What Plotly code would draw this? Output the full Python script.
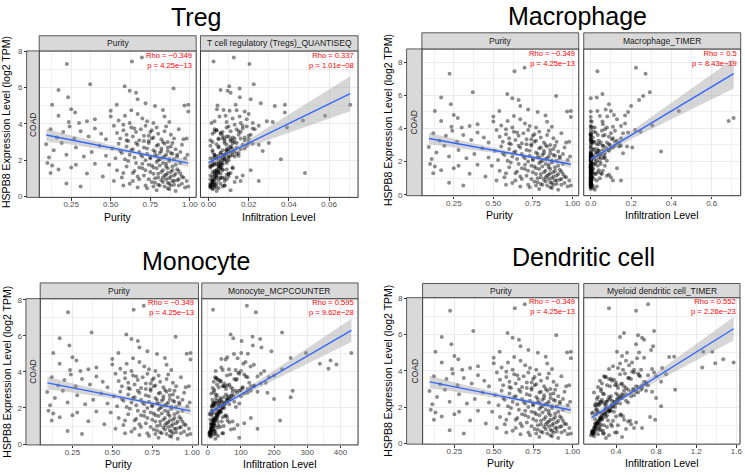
import plotly.graph_objects as go

# ---------------- text / labels ----------------
titles = ["Treg", "Macrophage", "Monocyte", "Dendritic cell"]
strip_labels = ["T cell regulatory (Tregs)_QUANTISEQ", "Macrophage_TIMER",
                "Monocyte_MCPCOUNTER", "Myeloid dendritic cell_TIMER"]
cancer = "COAD"
purity_rho = "\u22120.349"
purity_p = "4.25e\u221213"
infil_rho = ["0.337", "0.5", "0.595", "0.552"]
infil_p = ["1.01e\u221208", "8.43e\u221219", "9.62e\u221228", "2.26e\u221223"]

# ---------------- sample data (shared samples) ----------------
purity = [
    0.223, 0.634, 0.697, 0.37, 0.17, 0.588, 0.62, 0.66, 0.897, 0.231,
    0.67, 0.13, 0.25, 0.275, 0.538, 0.72, 0.78, 0.83, 0.966, 0.99,
    0.99, 0.17, 0.50, 0.50, 0.55, 0.59, 0.63, 0.67, 0.70, 0.73,
    0.84, 0.87, 0.40, 0.35, 0.30, 0.235, 0.77, 0.62,
    0.12, 0.16, 0.20, 0.24, 0.27, 0.31, 0.36, 0.40, 0.44, 0.47,
    0.52, 0.54, 0.56, 0.58, 0.60, 0.61, 0.63, 0.64, 0.66, 0.68,
    0.69, 0.71, 0.72, 0.74, 0.75, 0.77, 0.79, 0.80, 0.82, 0.84,
    0.86, 0.88, 0.90, 0.93, 0.96, 0.58, 0.65, 0.76, 0.85, 0.98,
    0.092, 0.11, 0.14, 0.19, 0.22, 0.28, 0.33, 0.38, 0.43, 0.47,
    0.51, 0.53, 0.55, 0.57, 0.59, 0.60, 0.62, 0.64, 0.65, 0.67,
    0.68, 0.70, 0.71, 0.73, 0.74, 0.75, 0.77, 0.78, 0.79, 0.80,
    0.81, 0.82, 0.83, 0.84, 0.85, 0.86, 0.87, 0.88, 0.89, 0.91,
    0.92, 0.94, 0.95, 0.97, 0.985,
    0.10, 0.12, 0.13, 0.17, 0.22, 0.25, 0.28, 0.31, 0.35, 0.40,
    0.45, 0.49, 0.52, 0.54, 0.57, 0.60, 0.62, 0.64, 0.66, 0.68,
    0.70, 0.71, 0.72, 0.74, 0.75, 0.76, 0.77, 0.78, 0.79, 0.80,
    0.80, 0.81, 0.82, 0.83, 0.83, 0.84, 0.85, 0.85, 0.86, 0.86,
    0.87, 0.88, 0.88, 0.89, 0.90, 0.90, 0.91, 0.92, 0.93, 0.94,
    0.95, 0.96, 0.97, 0.98, 0.99, 0.58, 0.67, 0.73, 0.87, 0.79,
    0.61, 0.63, 0.65, 0.66, 0.67, 0.69, 0.70, 0.71, 0.72, 0.73,
    0.74, 0.75, 0.76, 0.76, 0.77, 0.78, 0.78, 0.79, 0.80, 0.80,
    0.81, 0.81, 0.82, 0.82, 0.83, 0.83, 0.84, 0.84, 0.85, 0.85,
    0.86, 0.86, 0.87, 0.87, 0.88, 0.88, 0.89, 0.89, 0.90, 0.90,
    0.91, 0.91, 0.92, 0.92, 0.93, 0.93, 0.94, 0.95, 0.56, 0.58,
    0.60, 0.64, 0.68, 0.72, 0.74, 0.77, 0.79, 0.83, 0.86, 0.89,
]

expression = [
    7.30, 7.44, 7.66, 6.18, 5.86, 6.07, 5.82, 5.71, 5.95, 5.46,
    5.35, 5.05, 4.81, 4.63, 5.05, 5.14, 4.99, 4.77, 5.01, 5.05,
    4.68, 4.45, 4.72, 4.41, 4.18, 4.45, 4.75, 4.55, 4.30, 4.15,
    4.40, 4.10, 4.25, 4.15, 4.05, 4.10, 4.05, 4.05,
    3.70, 3.25, 3.55, 3.85, 3.20, 3.60, 3.30, 3.75, 3.45, 3.15,
    3.90, 3.50, 3.20, 3.65, 3.40, 3.05, 3.80, 3.30, 3.55, 3.10,
    3.70, 3.35, 3.90, 3.05, 3.55, 3.25, 3.80, 3.45, 3.15, 3.60,
    3.00, 3.40, 3.20, 3.70, 3.15, 3.95, 3.75, 3.65, 3.85, 3.20,
    2.88, 2.15, 2.55, 2.95, 2.30, 2.70, 2.20, 2.45, 2.80, 2.25,
    2.65, 2.10, 2.90, 2.40, 2.05, 2.75, 2.30, 2.60, 2.15, 2.85,
    2.45, 2.20, 2.70, 2.35, 2.95, 2.10, 2.55, 2.25, 2.80, 2.00,
    2.40, 2.65, 2.15, 2.90, 2.30, 2.50, 2.05, 2.75, 2.35, 2.60,
    2.20, 2.45, 2.85, 2.10, 2.30,
    1.85, 1.30, 1.70, 1.48, 0.72, 1.60, 1.75, 0.55, 1.26, 1.80,
    1.10, 1.75, 0.85, 1.45, 1.05, 1.65, 0.70, 1.30, 1.85, 0.95,
    1.55, 1.15, 0.60, 1.75, 1.35, 0.80, 1.60, 1.00, 1.90, 0.65,
    1.25, 1.70, 0.90, 1.45, 1.05, 0.55, 1.80, 1.20, 0.75, 1.55,
    1.00, 1.35, 0.60, 1.65, 0.85, 1.15, 0.30, 1.50, 0.95, 1.25,
    0.70, 1.05, 0.50, 0.85, 0.55, 0.60, 0.50, 0.45, 0.40, 0.35,
    1.95, 2.55, 1.40, 2.95, 1.10, 2.30, 1.80, 3.05, 1.45, 2.65,
    0.95, 2.15, 1.70, 3.20, 1.25, 2.45, 0.75, 1.55, 2.85, 1.05,
    2.05, 0.60, 1.35, 2.50, 1.85, 0.80, 1.15, 2.20, 0.95, 1.65,
    2.70, 1.30, 0.70, 1.95, 1.10, 2.40, 0.85, 1.45, 2.05, 0.65,
    1.25, 1.75, 0.90, 2.30, 1.40, 0.60, 1.85, 1.10, 2.50, 1.30,
    3.10, 0.85, 1.60, 2.00, 3.35, 0.55, 2.25, 3.00, 0.45, 2.95,
]

treg = [
    0.0204, 0.0025, 0.0126, 0.0225, 0.006, 0.0103, 0.0095, 0.011, 0.0155, 0.0156,
    0.021, 0.0705, 0.0042, 0.038, 0.038, 0.026, 0.033, 0.0075, 0.0045, 0.0135,
    0.018, 0.058, 0.0105, 0.0155, 0.047, 0.0085, 0.014, 0.020, 0.012, 0.029,
    0.0055, 0.032, 0.019, 0.003, 0.016, 0.009, 0.022, 0.0015,
    0.003, 0.012, 0.007, 0.019, 0.005, 0.015, 0.009, 0.022, 0.002, 0.011,
    0.017, 0.006, 0.013, 0.004, 0.021, 0.008, 0.039, 0.010, 0.016, 0.001,
    0.014, 0.007, 0.025, 0.012, 0.003, 0.018, 0.009, 0.006, 0.020, 0.011,
    0.002, 0.015, 0.008, 0.023, 0.005, 0.013, 0.017, 0.004, 0.010, 0.007,
    0.004, 0.010, 0.002, 0.030, 0.007, 0.014, 0.003, 0.009, 0.019, 0.005,
    0.012, 0.001, 0.022, 0.006, 0.036, 0.011, 0.003, 0.016, 0.008, 0.025,
    0.002, 0.013, 0.005, 0.009, 0.020, 0.004, 0.007, 0.015, 0.001, 0.010,
    0.006, 0.018, 0.003, 0.012, 0.008, 0.027, 0.002, 0.005, 0.014, 0.009,
    0.004, 0.011, 0.017, 0.006, 0.003,
    0.002, 0.048, 0.001, 0.009, 0.004, 0.012, 0.003, 0.007, 0.006, 0.005,
    0.010, 0.002, 0.008, 0.004, 0.014, 0.001, 0.006, 0.011, 0.003, 0.009,
    0.005, 0.017, 0.002, 0.007, 0.004, 0.013, 0.001, 0.008, 0.006, 0.003,
    0.010, 0.002, 0.005, 0.021, 0.007, 0.001, 0.004, 0.009, 0.003, 0.012,
    0.006, 0.002, 0.008, 0.005, 0.016, 0.001, 0.004, 0.007, 0.003, 0.010,
    0.002, 0.006, 0.001, 0.025, 0.004, 0.008, 0.003, 0.005, 0.002, 0.011,
    0.005, 0.009, 0.003, 0.014, 0.002, 0.008, 0.006, 0.011, 0.004, 0.010,
    0.001, 0.007, 0.005, 0.016, 0.003, 0.012, 0.002, 0.006, 0.009, 0.004,
    0.008, 0.001, 0.005, 0.013, 0.007, 0.002, 0.004, 0.010, 0.003, 0.006,
    0.011, 0.005, 0.001, 0.009, 0.003, 0.015, 0.002, 0.007, 0.008, 0.001,
    0.004, 0.006, 0.002, 0.012, 0.005, 0.003, 0.009, 0.004, 0.010, 0.003,
    0.018, 0.002, 0.006, 0.007, 0.020, 0.001, 0.011, 0.013, 0.002, 0.008,
]

macrophage = [
    0.272, 0.033, 0.224, 0.293, 0.03, 0.058, 0.0, 0.24, 0.26, 0.09,
    0.20, 0.437, 0.115, 0.709, 0.10, 0.074, 0.185, 0.17, 0.0, 0.033,
    0.0, 0.684, 0.082, 0.058, 0.305, 0.0, 0.045, 0.13, 0.17, 0.0,
    0.005, 0.11, 0.06, 0.15, 0.02, 0.0, 0.08, 0.008,
    0.0, 0.04, 0.0, 0.12, 0.005, 0.07, 0.0, 0.185, 0.01, 0.05,
    0.0, 0.09, 0.02, 0.0, 0.15, 0.03, 0.247, 0.0, 0.06, 0.008,
    0.10, 0.0, 0.22, 0.04, 0.0, 0.13, 0.015, 0.0, 0.08, 0.035,
    0.0, 0.11, 0.005, 0.16, 0.0, 0.07, 0.025, 0.0, 0.055, 0.012,
    0.0, 0.02, 0.0, 0.15, 0.0, 0.06, 0.005, 0.0, 0.10, 0.0,
    0.04, 0.0, 0.18, 0.01, 0.08, 0.03, 0.0, 0.349, 0.0, 0.206,
    0.0, 0.05, 0.012, 0.0, 0.12, 0.0, 0.025, 0.07, 0.0, 0.045,
    0.0, 0.09, 0.0, 0.14, 0.008, 0.16, 0.0, 0.015, 0.065, 0.0,
    0.0, 0.035, 0.11, 0.0, 0.003,
    0.0, 0.01, 0.0, 0.04, 0.0, 0.0, 0.07, 0.0, 0.02, 0.0,
    0.005, 0.0, 0.03, 0.0, 0.10, 0.0, 0.0, 0.05, 0.0, 0.015,
    0.0, 0.08, 0.0, 0.0, 0.035, 0.0, 0.13, 0.0, 0.006, 0.0,
    0.025, 0.0, 0.0, 0.06, 0.0, 0.01, 0.0, 0.09, 0.0, 0.0,
    0.045, 0.0, 0.003, 0.0, 0.11, 0.0, 0.02, 0.0, 0.0, 0.055,
    0.0, 0.008, 0.0, 0.15, 0.0, 0.0, 0.03, 0.0, 0.012, 0.0,
    0.004, 0.03, 0.0, 0.06, 0.002, 0.0, 0.02, 0.09, 0.0, 0.04,
    0.0, 0.006, 0.0, 0.12, 0.0, 0.05, 0.0, 0.01, 0.075, 0.0,
    0.03, 0.0, 0.004, 0.0, 0.015, 0.0, 0.0, 0.065, 0.002, 0.0,
    0.085, 0.0, 0.0, 0.025, 0.0, 0.045, 0.0, 0.008, 0.0, 0.0,
    0.0, 0.035, 0.0, 0.02, 0.0, 0.0, 0.05, 0.003, 0.07, 0.0,
    0.14, 0.0, 0.01, 0.0, 0.105, 0.0, 0.04, 0.095, 0.0, 0.06,
]

monocyte = [
    145, 16, 118, 224, 77, 69, 158, 102, 135, 136,
    162, 433, 59, 370, 296, 192, 79, 250, 121, 101,
    54, 338, 41, 388, 364, 107, 90, 114, 129, 224,
    139, 84, 41, 64, 24, 45, 170, 100,
    22, 60, 35, 110, 45, 80, 28, 150, 18, 70,
    95, 40, 130, 25, 175, 55, 200, 65, 85, 15,
    120, 50, 160, 75, 30, 140, 58, 38, 105, 88,
    20, 125, 48, 185, 33, 92, 115, 27, 68, 52,
    18, 45, 25, 256, 30, 70, 15, 40, 110, 22,
    60, 12, 150, 35, 85, 55, 20, 250, 33, 180,
    14, 65, 28, 42, 130, 19, 38, 95, 11, 50,
    27, 100, 16, 75, 36, 200, 13, 24, 80, 48,
    21, 58, 120, 32, 17,
    12, 218, 8, 45, 20, 55, 15, 25, 30, 35,
    10, 40, 18, 28, 90, 6, 22, 60, 14, 38,
    26, 110, 9, 33, 16, 70, 11, 48, 24, 7,
    42, 13, 29, 130, 19, 5, 36, 65, 17, 52,
    21, 8, 44, 27, 80, 10, 23, 58, 15, 75,
    12, 32, 6, 150, 20, 46, 14, 31, 9, 95,
    28, 62, 18, 95, 14, 48, 34, 120, 20, 72,
    10, 40, 26, 140, 16, 58, 9, 30, 88, 13,
    44, 7, 22, 66, 37, 11, 19, 52, 12, 31,
    78, 17, 8, 41, 15, 60, 10, 24, 47, 6,
    21, 35, 12, 54, 25, 9, 39, 18, 70, 20,
    105, 11, 29, 43, 160, 8, 50, 100, 7, 85,
]

dendritic = [
    0.60, 0.33, 0.72, 0.78, 0.44, 0.48, 0.66, 0.68, 0.62, 0.60,
    0.77, 1.36, 0.46, 1.47, 1.27, 0.75, 0.51, 0.98, 0.63, 0.41,
    0.61, 1.573, 0.68, 1.39, 1.26, 0.56, 0.93, 0.50, 0.53, 0.86,
    0.44, 0.76, 0.37, 0.42, 0.58, 0.33, 0.65, 0.47,
    0.28, 0.45, 0.35, 0.62, 0.31, 0.52, 0.26, 0.72, 0.24, 0.48,
    0.58, 0.38, 0.66, 0.30, 0.85, 0.42, 0.90, 0.46, 0.55, 0.22,
    0.64, 0.40, 0.78, 0.50, 0.33, 0.70, 0.44, 0.36, 0.60, 0.53,
    0.25, 0.68, 0.41, 0.80, 0.34, 0.56, 0.63, 0.29, 0.49, 0.39,
    0.25, 0.38, 0.22, 0.99, 0.30, 0.46, 0.20, 0.34, 0.62, 0.27,
    0.42, 0.19, 0.70, 0.32, 0.85, 0.40, 0.24, 0.55, 0.29, 0.76,
    0.21, 0.44, 0.28, 0.36, 0.65, 0.23, 0.33, 0.52, 0.18, 0.39,
    0.26, 0.58, 0.22, 0.48, 0.31, 0.80, 0.20, 0.27, 0.50, 0.35,
    0.24, 0.41, 0.60, 0.30, 0.25,
    0.20, 0.79, 0.17, 0.40, 0.25, 0.45, 0.22, 0.28, 0.32, 0.35,
    0.19, 0.38, 0.23, 0.30, 0.55, 0.16, 0.27, 0.48, 0.21, 0.36,
    0.26, 0.60, 0.18, 0.33, 0.24, 0.50, 0.20, 0.42, 0.29, 0.17,
    0.37, 0.22, 0.31, 0.74, 0.25, 0.16, 0.34, 0.52, 0.23, 0.44,
    0.28, 0.19, 0.39, 0.26, 0.58, 0.21, 0.30, 0.47, 0.24, 0.54,
    0.20, 0.35, 0.17, 0.66, 0.27, 0.41, 0.22, 0.33, 0.18, 0.46,
    0.30, 0.44, 0.24, 0.58, 0.20, 0.38, 0.33, 0.66, 0.25, 0.47,
    0.19, 0.36, 0.29, 0.72, 0.22, 0.43, 0.18, 0.31, 0.55, 0.21,
    0.37, 0.17, 0.26, 0.46, 0.32, 0.19, 0.23, 0.40, 0.20, 0.28,
    0.50, 0.24, 0.16, 0.34, 0.21, 0.42, 0.18, 0.27, 0.35, 0.17,
    0.23, 0.30, 0.19, 0.39, 0.25, 0.16, 0.33, 0.22, 0.45, 0.26,
    0.62, 0.20, 0.29, 0.36, 0.70, 0.18, 0.41, 0.57, 0.15, 0.52,
]

# ---------------- fitted lines and 95% bands ----------------
purity_fit_x = [0.093, 0.30, 0.50, 0.65, 0.80, 0.99]
purity_fit_y = [3.39, 3.03, 2.69, 2.43, 2.17, 1.84]
purity_fit_ci = [0.34, 0.23, 0.13, 0.09, 0.12, 0.22]

treg_fit_x = [0.0, 0.01, 0.02, 0.035, 0.05, 0.0705]
treg_fit_y = [1.86, 2.40, 2.94, 3.75, 4.56, 5.66]
treg_fit_ci = [0.20, 0.12, 0.20, 0.43, 0.67, 0.97]

mac_fit_x = [0.0, 0.05, 0.2, 0.4, 0.55, 0.709]
mac_fit_y = [2.13, 2.49, 3.59, 5.05, 6.14, 7.30]
mac_fit_ci = [0.13, 0.12, 0.24, 0.49, 0.69, 0.90]

mono_fit_x = [6, 70, 150, 250, 350, 433]
mono_fit_y = [1.74, 2.42, 3.28, 4.35, 5.41, 6.30]
mono_fit_ci = [0.165, 0.12, 0.185, 0.34, 0.51, 0.65]

dc_fit_x = [0.155, 0.45, 0.7, 1.0, 1.3, 1.573]
dc_fit_y = [1.42, 2.44, 3.30, 4.34, 5.37, 6.31]
dc_fit_ci = [0.21, 0.12, 0.19, 0.335, 0.50, 0.65]

infil_values = [treg, macrophage, monocyte, dendritic]
infil_fits = [(treg_fit_x, treg_fit_y, treg_fit_ci), (mac_fit_x, mac_fit_y, mac_fit_ci),
              (mono_fit_x, mono_fit_y, mono_fit_ci), (dc_fit_x, dc_fit_y, dc_fit_ci)]

# ---------------- layout geometry (pixels) ----------------
W, H = 745, 475
FONT = "Liberation Sans, Arial, sans-serif"
panels = [
    dict(pur=(39.3, 196.7), inf=(201, 359), py=(47.7, 196.7), sy=(32.3, 47.7), coad=(26.7, 39.3),
         title=(197, 13), ytx=6, yty=120, xty=216.5, yr=[-0.05, 8.02],
         xr=[-0.004, 0.0744], tick0=0, dtick=0.02, fmt=".2f"),
    dict(pur=(423, 580.3), inf=(585.3, 742.7), py=(45.7, 195), sy=(29.3, 45.7), coad=(407.7, 423),
         title=(579, 12), ytx=389, yty=118, xty=215, yr=[-0.06, 8.79],
         xr=[-0.035, 0.744], tick0=0, dtick=0.2, fmt=".1f"),
    dict(pur=(40.3, 199), inf=(202.3, 359), py=(299.7, 448.5), sy=(283.7, 299.7), coad=(26, 40.3),
         title=(197, 261), ytx=7, yty=374, xty=467.7, yr=[-0.05, 8.06],
         xr=[-18, 453], tick0=0, dtick=100, fmt="d"),
    dict(pur=(423.7, 580.3), inf=(585.3, 742), py=(298.7, 447.7), sy=(284.3, 298.7), coad=(407.7, 423.7),
         title=(585, 257.5), ytx=389, yty=373, xty=467, yr=[-0.04, 8.02],
         xr=[0.078, 1.637], tick0=0.4, dtick=0.4, fmt=".1f"),
]


def fx(px):
    return px / W


def fy(py):
    return 1 - py / H


def xaxis(domain, rng, anchor, tick0, dtick, fmt):
    return dict(domain=[fx(domain[0]), fx(domain[1])], range=rng, anchor=anchor,
                tickmode="linear", tick0=tick0, dtick=dtick, tickformat=fmt,
                ticks="outside", ticklen=2.5, tickwidth=0.8, tickcolor="#333333",
                ticklabelstandoff=-3,
                tickfont=dict(family=FONT, size=8, color="#4D4D4D"),
                showgrid=True, gridcolor="#EBEBEB", gridwidth=1,
                minor=dict(tick0=tick0, dtick=dtick / 2, showgrid=True,
                           gridcolor="#F0F0F0", gridwidth=0.6, ticks=""),
                zeroline=False, showline=False)


def text_ann(text, x, y, size, color, xanchor="center", angle=0, align="center"):
    return dict(text=text, x=x, y=y, xref="paper", yref="paper", showarrow=False,
                xanchor=xanchor, yanchor="middle", textangle=angle, align=align,
                font=dict(family=FONT, size=size, color=color))


fig = go.Figure()
layout = dict(width=W, height=H, margin=dict(l=0, r=0, t=0, b=0),
              paper_bgcolor="white", plot_bgcolor="white", showlegend=False)
shapes, annotations = [], []

point_style = dict(size=4, color="rgba(0,0,0,0.45)", line=dict(width=0))
band_color = "rgba(153,153,153,0.4)"
line_color = "#3366FF"

for i, pn in enumerate(panels):
    xa_p = "x" if i == 0 else "x%d" % (2 * i + 1)
    xa_i = "x%d" % (2 * i + 2)
    ya = "y" if i == 0 else "y%d" % (i + 1)
    ykey = "yaxis" if i == 0 else "yaxis%d" % (i + 1)
    xkey_p = "xaxis" if i == 0 else "xaxis%d" % (2 * i + 1)
    xkey_i = "xaxis%d" % (2 * i + 2)

    layout[xkey_p] = xaxis(pn["pur"], [0.048, 1.04], ya, 0.25, 0.25, ".2f")
    layout[xkey_i] = xaxis(pn["inf"], pn["xr"], ya, pn["tick0"], pn["dtick"], pn["fmt"])
    layout[ykey] = dict(domain=[fy(pn["py"][1]), fy(pn["py"][0])], range=pn["yr"],
                        anchor="free", position=fx(pn["coad"][0]),
                        tickmode="linear", tick0=0, dtick=2,
                        ticks="outside", ticklen=2.5, tickwidth=0.8, tickcolor="#333333",
                        tickfont=dict(family=FONT, size=8, color="#4D4D4D"),
                        showgrid=True, gridcolor="#EBEBEB", gridwidth=1,
                        minor=dict(tick0=0, dtick=1, showgrid=True, gridcolor="#F0F0F0",
                                   gridwidth=0.6, ticks=""),
                        zeroline=False, showline=False)

    # purity facet
    fig.add_trace(go.Scatter(x=purity, y=expression, mode="markers", marker=point_style,
                             xaxis=xa_p, yaxis=ya, hoverinfo="skip"))
    lo = [a - c for a, c in zip(purity_fit_y, purity_fit_ci)]
    hi = [a + c for a, c in zip(purity_fit_y, purity_fit_ci)]
    fig.add_trace(go.Scatter(x=purity_fit_x + purity_fit_x[::-1], y=lo + hi[::-1], fill="toself",
                             fillcolor=band_color, line=dict(width=0), mode="lines",
                             xaxis=xa_p, yaxis=ya, hoverinfo="skip"))
    fig.add_trace(go.Scatter(x=purity_fit_x, y=purity_fit_y, mode="lines",
                             line=dict(color=line_color, width=1.4), xaxis=xa_p, yaxis=ya))

    # infiltration facet
    fxs, fys, fci = infil_fits[i]
    fig.add_trace(go.Scatter(x=infil_values[i], y=expression, mode="markers", marker=point_style,
                             xaxis=xa_i, yaxis=ya, hoverinfo="skip"))
    lo = [a - c for a, c in zip(fys, fci)]
    hi = [a + c for a, c in zip(fys, fci)]
    fig.add_trace(go.Scatter(x=fxs + fxs[::-1], y=lo + hi[::-1], fill="toself",
                             fillcolor=band_color, line=dict(width=0), mode="lines",
                             xaxis=xa_i, yaxis=ya, hoverinfo="skip"))
    fig.add_trace(go.Scatter(x=fxs, y=fys, mode="lines",
                             line=dict(color=line_color, width=1.4), xaxis=xa_i, yaxis=ya))

    # panel borders and strips
    for xr_ in (pn["pur"], pn["inf"]):
        shapes.append(dict(type="rect", xref="paper", yref="paper", layer="above",
                           x0=fx(xr_[0]), x1=fx(xr_[1]), y0=fy(pn["py"][1]), y1=fy(pn["py"][0]),
                           line=dict(color="#333333", width=1), fillcolor="rgba(0,0,0,0)"))
        shapes.append(dict(type="rect", xref="paper", yref="paper", layer="above",
                           x0=fx(xr_[0]), x1=fx(xr_[1]), y0=fy(pn["sy"][1]), y1=fy(pn["sy"][0]),
                           line=dict(color="#333333", width=0.8), fillcolor="#D9D9D9"))
    shapes.append(dict(type="rect", xref="paper", yref="paper", layer="above",
                       x0=fx(pn["coad"][0]), x1=fx(pn["coad"][1]),
                       y0=fy(pn["py"][1]), y1=fy(pn["py"][0]),
                       line=dict(color="#333333", width=0.8), fillcolor="#D9D9D9"))

    # strip texts
    strip_y = fy((pn["sy"][0] + pn["sy"][1]) / 2)
    annotations.append(text_ann("Purity", fx((pn["pur"][0] + pn["pur"][1]) / 2), strip_y, 8.5, "#1A1A1A"))
    annotations.append(text_ann(strip_labels[i], fx((pn["inf"][0] + pn["inf"][1]) / 2), strip_y, 8.5, "#1A1A1A"))
    annotations.append(text_ann(cancer, fx((pn["coad"][0] + pn["coad"][1]) / 2),
                                fy((pn["py"][0] + pn["py"][1]) / 2), 8.5, "#1A1A1A", angle=-90))

    # stats text (two right-aligned lines in one block)
    for xr_, rho, pv in ((pn["pur"], purity_rho, purity_p), (pn["inf"], infil_rho[i], infil_p[i])):
        annotations.append(text_ann("Rho = " + rho + "<br>p = " + pv, fx(xr_[1] - 2),
                                    fy(pn["py"][0] + 9.4), 7.6, "#FF0000",
                                    xanchor="right", align="right"))

    # titles and axis titles
    annotations.append(text_ann(titles[i], fx(pn["title"][0]), fy(pn["title"][1]), 25, "#000000"))
    annotations.append(text_ann("Purity", fx((pn["pur"][0] + pn["pur"][1]) / 2), fy(pn["xty"]),
                                10.5, "#000000"))
    annotations.append(text_ann("Infiltration Level", fx((pn["inf"][0] + pn["inf"][1]) / 2),
                                fy(pn["xty"]), 10.5, "#000000"))
    annotations.append(text_ann("HSPB8 Expression Level (log2 TPM)", fx(pn["ytx"]), fy(pn["yty"]),
                                10.5, "#000000", angle=-90))

layout["shapes"] = shapes
layout["annotations"] = annotations
fig.update_layout(**layout)
fig.write_html("out.html", config={"displayModeBar": False},
               post_script="document.body.style.margin='0';document.body.style.padding='0';")
